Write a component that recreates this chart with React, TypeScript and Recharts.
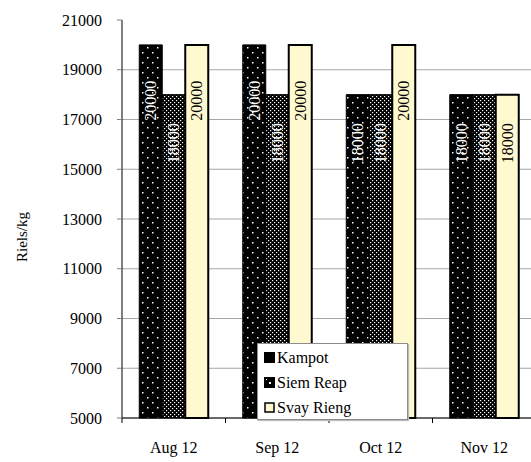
import React from 'react'
import { BarChart, Bar, XAxis, YAxis, CartesianGrid, Legend, LabelList } from 'recharts'

const categories = ['Aug 12', 'Sep 12', 'Oct 12', 'Nov 12']
const kampot = [20000, 20000, 18000, 18000]
const siemReap = [18000, 18000, 18000, 18000]
const svayRieng = [20000, 20000, 20000, 18000]
const yTicks = [5000, 7000, 9000, 11000, 13000, 15000, 17000, 19000, 21000]

const data = categories.map((c, i) => ({
  month: c,
  kampot: kampot[i],
  siemReap: siemReap[i],
  svayRieng: svayRieng[i],
}))

const FONT = 'Liberation Serif'
const YELLOW = '#fff9cf'

const CHART_W = 560
const CHART_H = 462
const X_AXIS_H = 30
const MARGIN = { top: 20, right: 24, bottom: 44 - X_AXIS_H, left: 0 }
const Y_AXIS_W = 122
const BAND = (CHART_W - MARGIN.left - MARGIN.right - Y_AXIS_W) / categories.length

function makeLabel(color: string) {
  return (props: any) => {
    const { x, y, width, height, value } = props
    const cx = x + width / 2
    const cy = y + height * 0.15
    return (
      <text
        transform={`translate(${cx},${cy}) rotate(-90)`}
        textAnchor="middle"
        dominantBaseline="central"
        fill={color}
        style={{ fontFamily: FONT, fontSize: 16 }}
      >
        {value}
      </text>
    )
  }
}

function XTick(props: any) {
  const { x, y, payload, index } = props
  return (
    <g>
      <line x1={x - BAND / 2} y1={y} x2={x - BAND / 2} y2={y + 5} stroke="#000" />
      {index === categories.length - 1 && (
        <line x1={x + BAND / 2} y1={y} x2={x + BAND / 2} y2={y + 5} stroke="#000" />
      )}
      <text x={x} y={y + 29} textAnchor="middle" dominantBaseline="central" fill="#000" style={{ fontFamily: FONT, fontSize: 16 }}>
        {payload.value}
      </text>
    </g>
  )
}

// grid lines, except the one on the top edge
function GridLine(p: any) {
  if (p.y1 <= MARGIN.top + 1) return <g key={p.key} />
  return <line key={p.key} x1={p.x1} y1={p.y1} x2={p.x2} y2={p.y2} stroke="#a6a6a6" strokeWidth={1} />
}

const legendItems = [
  { name: 'Kampot', kind: 'kampot' },
  { name: 'Siem Reap', kind: 'siem' },
  { name: 'Svay Rieng', kind: 'svay' },
]

function Swatch({ kind }: { kind: string }) {
  return (
    <svg width={11} height={11} style={{ marginRight: 2 }}>
      {kind === 'kampot' && <rect x={0.5} y={0.5} width={10} height={10} fill="#000" stroke="#000" />}
      {kind === 'siem' && (
        <>
          <rect x={0.5} y={0.5} width={10} height={10} fill="#000" stroke="#000" />
          <rect x={5} y={5} width={2} height={2} fill="#fff" />
          <rect x={2} y={2} width={1} height={1} fill="#fff" />
        </>
      )}
      {kind === 'svay' && <rect x={1} y={1} width={9} height={9} fill={YELLOW} stroke="#000" strokeWidth={1.5} />}
    </svg>
  )
}

function renderLegend() {
  return (
    <div
      style={{
        background: '#fff',
        border: '1px solid #8c8c8c',
        boxShadow: '1px 1px 1px #bbb',
        width: 151,
        height: 77,
        boxSizing: 'border-box',
        padding: '1px 0 0 6px',
        fontFamily: FONT,
        fontSize: 16,
        color: '#000',
      }}
    >
      {legendItems.map((it) => (
        <div key={it.name} style={{ display: 'flex', alignItems: 'center', height: 25 }}>
          <Swatch kind={it.kind} />
          <span>{it.name}</span>
        </div>
      ))}
    </div>
  )
}

export default function App() {
  return (
    <div style={{ position: 'absolute', left: 0, top: 0, width: 531, height: 462, overflow: 'hidden', background: '#fff', fontFamily: FONT }}>
      <BarChart width={CHART_W} height={CHART_H} data={data} margin={MARGIN} barCategoryGap="16.67%" barGap={0}>
        <defs>
          <pattern id="kampotPat" width={10} height={10} patternUnits="userSpaceOnUse">
            <rect width={10} height={10} fill="#000" />
            <rect x={2} y={2} width={1.5} height={1.5} fill="#fff" />
            <rect x={7} y={7} width={1.5} height={1.5} fill="#fff" />
          </pattern>
          <pattern id="siemPat" width={4} height={4} patternUnits="userSpaceOnUse">
            <rect width={4} height={4} fill="#000" />
            <rect x={0} y={0} width={1.2} height={1.2} fill="#fff" />
            <rect x={2} y={2} width={1.2} height={1.2} fill="#fff" />
          </pattern>
        </defs>
        <CartesianGrid vertical={false} horizontal={GridLine} />
        <XAxis
          dataKey="month"
          height={X_AXIS_H}
          axisLine={{ stroke: '#000' }}
          tickLine={false}
          tickSize={0}
          tickMargin={0}
          tick={<XTick />}
          interval={0}
        />
        <YAxis
          width={Y_AXIS_W}
          domain={[5000, 21000]}
          ticks={yTicks}
          axisLine={{ stroke: '#000' }}
          tickLine={{ stroke: '#808080' }}
          tickSize={5}
          tickMargin={15}
          tick={{ fontSize: 16, fontFamily: FONT, fill: '#000' }}
          label={{
            content: () => (
              <text
                transform="translate(22,237) rotate(-90)"
                textAnchor="middle"
                dominantBaseline="central"
                fill="#000"
                style={{ fontFamily: FONT, fontSize: 15 }}
              >
                Riels/kg
              </text>
            ),
          }}
        />
        <Legend
          layout="horizontal"
          verticalAlign="middle"
          content={renderLegend}
          wrapperStyle={{ position: 'absolute', left: 257, top: 343, width: 151, height: 77 }}
        />
        <Bar dataKey="kampot" name="Kampot" fill="url(#kampotPat)" stroke="#000" strokeWidth={1} isAnimationActive={false}>
          <LabelList dataKey="kampot" content={makeLabel('#fff')} />
        </Bar>
        <Bar dataKey="siemReap" name="Siem Reap" fill="url(#siemPat)" stroke="#000" strokeWidth={1} isAnimationActive={false}>
          <LabelList dataKey="siemReap" content={makeLabel('#fff')} />
        </Bar>
        <Bar dataKey="svayRieng" name="Svay Rieng" fill={YELLOW} stroke="#000" strokeWidth={2} isAnimationActive={false}>
          <LabelList dataKey="svayRieng" content={makeLabel('#000')} />
        </Bar>
      </BarChart>
    </div>
  )
}
